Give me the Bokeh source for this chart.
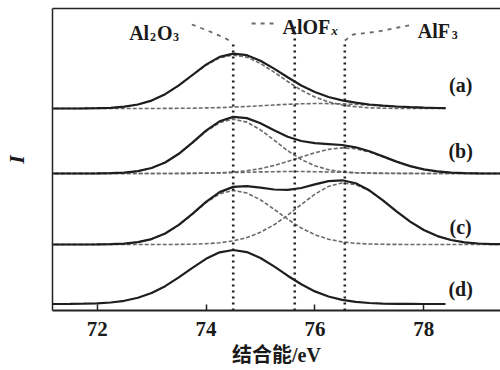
from bokeh.plotting import figure
from bokeh.models import Range1d, LinearAxis, FixedTicker
from bokeh.core.properties import value
from bokeh.embed import file_html
from bokeh.resources import INLINE

# ---------------- data ----------------
tick_values = [72, 74, 76, 78]
tick_labels = ["72", "74", "76", "78"]
x_label = "结合能/eV"
y_label = "I"
panel_names = ["(a)", "(b)", "(c)", "(d)"]
peak_names = ["Al2O3", "AlOFx", "AlF3"]
peak_positions = [74.5, 75.63, 76.55]          # eV

# binding energy grid (eV)
energy = [71.0, 71.25, 71.5, 71.75, 72.0, 72.25, 72.5, 72.75, 73.0, 73.25,
          73.5, 73.75, 74.0, 74.25, 74.5, 74.75, 75.0, 75.25, 75.5, 75.75,
          76.0, 76.25, 76.5, 76.75, 77.0, 77.25, 77.5, 77.75, 78.0, 78.25,
          78.5, 78.75, 79.0, 79.25, 79.5]
# spectra (a) and (d) stop earlier
energy_short = [71.0, 71.25, 71.5, 71.75, 72.0, 72.25, 72.5, 72.75, 73.0, 73.25,
                73.5, 73.75, 74.0, 74.25, 74.5, 74.75, 75.0, 75.25, 75.5, 75.75,
                76.0, 76.25, 76.5, 76.75, 77.0, 77.25, 77.5, 77.75, 78.0, 78.25,
                78.4]

# vertical offsets of the stacked spectra (a.u.)
offsets = [202, 137, 66, 6.5]

# (a)
a_envelope = [0, 0, 0, 0.1, 0.3, 0.7, 1.8, 4.0, 7.9, 14.3, 23.1, 33.5, 43.9, 51.6,
              54.9, 53.3, 47.8, 39.9, 31.2, 23.0, 16.5, 11.5, 8.1, 5.8, 4.0, 2.9,
              2.0, 1.3, 0.8, 0.5, 0.4]
a_al2o3 = [0, 0, 0, 0.1, 0.3, 0.7, 1.8, 4.0, 7.9, 14.2, 22.9, 33.2, 43.3, 50.7,
           53.5, 51.3, 45.1, 36.4, 27.0, 18.3, 11.5, 6.6, 3.5, 1.7, 0.7, 0.3,
           0.1, 0, 0, 0, 0]
a_minor = [0, 0, 0, 0, 0, 0, 0, 0, 0, 0.1, 0.2, 0.3, 0.6, 0.9, 1.4, 2.0, 2.7,
           3.5, 4.2, 4.7, 5.0, 4.9, 4.6, 4.1, 3.3, 2.6, 1.9, 1.3, 0.8, 0.5, 0.4]

# (b)
b_envelope = [0, 0, 0, 0, 0.1, 0.3, 0.9, 2.4, 5.5, 11.0, 19.7, 30.9, 42.8, 52.2,
              56.6, 55.4, 50.2, 43.2, 36.8, 32.5, 30.3, 29.4, 28.5, 26.2, 22.2,
              17.1, 11.9, 7.4, 4.1, 2.1, 0.9, 0.4, 0.1, 0, 0]
b_al2o3 = [0, 0, 0, 0, 0.1, 0.3, 0.9, 2.4, 5.5, 11.0, 19.6, 30.6, 42.1, 50.9,
           54.3, 51.4, 43.7, 33.4, 22.8, 14.0, 7.7, 3.8, 1.7, 0.7, 0.2, 0.1,
           0, 0, 0, 0, 0, 0, 0, 0, 0]
b_alof = [0, 0, 0, 0, 0, 0, 0, 0, 0, 0, 0.1, 0.2, 0.4, 0.6, 0.9, 1.2, 1.6, 1.8,
          2.0, 2.0, 1.8, 1.5, 1.2, 0.8, 0.5, 0.3, 0.2, 0.1, 0, 0, 0, 0, 0, 0, 0]
b_alf3 = [0, 0, 0, 0, 0, 0, 0, 0, 0, 0, 0, 0.1, 0.3, 0.7, 1.4, 2.8, 4.9, 8.0,
          12.0, 16.5, 20.8, 24.1, 25.6, 24.7, 21.5, 16.7, 11.7, 7.3, 4.1, 2.1,
          0.9, 0.4, 0.1, 0, 0]

# (c)
c_envelope = [0, 0, 0, 0, 0.1, 0.3, 0.9, 2.4, 5.4, 11.0, 19.6, 30.7, 42.6, 52.4,
              57.6, 58.4, 56.9, 55.0, 54.6, 56.5, 60.1, 63.4, 64.2, 61.2, 54.2,
              44.2, 33.2, 22.9, 14.5, 8.4, 4.5, 2.2, 1.0, 0.4, 0.2]
c_al2o3 = [0, 0, 0, 0, 0.1, 0.3, 0.9, 2.4, 5.4, 11.0, 19.5, 30.4, 41.8, 50.7,
           54.0, 51.5, 44.7, 35.3, 25.3, 16.5, 9.8, 5.3, 2.6, 1.2, 0.5, 0.2,
           0.1, 0, 0, 0, 0, 0, 0, 0, 0]
c_alf3 = [0, 0, 0, 0, 0, 0, 0, 0, 0, 0, 0.1, 0.3, 0.8, 1.7, 3.6, 6.9, 12.2, 19.7,
          29.3, 40.0, 50.3, 58.1, 61.6, 60.0, 53.7, 44.0, 33.1, 22.9, 14.5, 8.4,
          4.5, 2.2, 1.0, 0.4, 0.2]

# (d)
d_envelope = [0, 0, 0.1, 0.3, 0.6, 1.5, 3.2, 6.2, 11.0, 17.8, 26.6, 36.2, 45.2,
              51.7, 54.0, 51.9, 46.0, 37.6, 28.3, 19.7, 12.6, 7.5, 4.1, 2.1, 1.0,
              0.4, 0.2, 0.1, 0, 0, 0]

# ---------------- layout helpers ----------------
X0, X1 = 71.18, 79.41
Y0, Y1 = 0, 302
FRAME_L, FRAME_B, FRAME_W = 50, 310, 450


def dx(px):
    return X0 + (px - FRAME_L) * (X1 - X0) / FRAME_W


def dy(py):
    return Y0 + (FRAME_B - py)


SERIF = "Liberation Serif"
TXT = "#1a1a1a"
ENV_COLOR = "#1e1e1e"
COMP_COLOR = "#6a6a6a"

p = figure(width=500, height=370, x_range=Range1d(X0, X1), y_range=Range1d(Y0, Y1),
           output_backend="svg", toolbar_location=None,
           x_axis_location=None, y_axis_location=None,
           min_border_left=FRAME_L, min_border_right=0, min_border_top=8,
           min_border_bottom=60)
p.outline_line_color = None
p.xgrid.grid_line_color = None
p.ygrid.grid_line_color = None
p.background_fill_color = "white"
p.border_fill_color = "white"

# axes
xaxis = LinearAxis(ticker=FixedTicker(ticks=tick_values),
                   major_label_overrides=dict(zip(tick_values, tick_labels)),
                   axis_label=x_label)
xaxis.axis_line_width = 2
xaxis.axis_line_color = "#222222"
xaxis.major_tick_in = 6
xaxis.major_tick_out = 0
xaxis.major_tick_line_width = 1.5
xaxis.major_tick_line_color = "#222222"
xaxis.minor_tick_line_color = None
xaxis.major_label_text_font = SERIF
xaxis.major_label_text_font_style = "bold"
xaxis.major_label_text_font_size = "21px"
xaxis.major_label_text_color = TXT
xaxis.major_label_standoff = 11
xaxis.axis_label_text_font = "Liberation Serif, Noto Sans CJK SC"
xaxis.axis_label_text_font_style = "bold"
xaxis.axis_label_text_font_size = "20px"
xaxis.axis_label_text_color = TXT
xaxis.axis_label_standoff = 5
p.add_layout(xaxis, "below")

yaxis = LinearAxis(ticker=FixedTicker(ticks=[]), axis_label=y_label)
yaxis.axis_line_width = 1.5
yaxis.axis_line_color = "#222222"
yaxis.major_tick_line_color = None
yaxis.minor_tick_line_color = None
yaxis.major_label_text_font_size = "0px"
yaxis.axis_label_text_font = SERIF
yaxis.axis_label_text_font_style = "bold italic"
yaxis.axis_label_text_font_size = "22px"
yaxis.axis_label_text_color = TXT
yaxis.axis_label_standoff = 24
p.add_layout(yaxis, "left")

top = LinearAxis(ticker=FixedTicker(ticks=[]))
top.axis_line_width = 1.5
top.axis_line_color = "#222222"
top.major_tick_line_color = None
top.minor_tick_line_color = None
top.major_label_text_font_size = "0px"
p.add_layout(top, "above")

# component curves (dashed) and envelopes (solid)
def shifted(vals, off):
    return [v + off for v in vals]

components = [
    (energy_short, a_al2o3, offsets[0]), (energy_short, a_minor, offsets[0]),
    (energy, b_al2o3, offsets[1]), (energy, b_alof, offsets[1]), (energy, b_alf3, offsets[1]),
    (energy, c_al2o3, offsets[2]), (energy, c_alf3, offsets[2]),
]
for xs, ys, off in components:
    p.line(xs, shifted(ys, off), line_color=COMP_COLOR, line_width=1.6, line_dash="4 2")

envelopes = [
    (energy_short, a_envelope, offsets[0]),
    (energy, b_envelope, offsets[1]),
    (energy, c_envelope, offsets[2]),
    (energy_short, d_envelope, offsets[3]),
]
for xs, ys, off in envelopes:
    p.line(xs, shifted(ys, off), line_color=ENV_COLOR, line_width=2.2)

# vertical dotted reference lines at the peak positions
line_tops = [dy(42), dy(25), dy(40)]
p.segment(x0=peak_positions, y0=[Y0] * 3, x1=peak_positions, y1=line_tops,
          line_color="#222222", line_width=2.6, line_dash=value([2, 4]))

# leader lines from labels to the reference lines
p.line([dx(190), dx(208), dx(222), peak_positions[0]],
       [dy(24), dy(31), dy(37), line_tops[0]],
       line_color=COMP_COLOR, line_width=1.8, line_dash="4 5")
p.line([peak_positions[2], dx(352), dx(377), dx(397), dx(413)],
       [line_tops[2], dy(34), dy(31), dy(27), dy(24)],
       line_color=COMP_COLOR, line_width=1.8, line_dash="4 5")
p.line([dx(250), dx(272)], [dy(23), dy(23)],
       line_color=COMP_COLOR, line_width=1.8, line_dash="4 5")

# peak labels with subscripts
main_txt = ["Al", "O", "AlOF", "AlF"]
main_x = [dx(127), dx(155), dx(281), dx(417)]
main_y = [dy(32), dy(32), dy(26.5), dy(30)]
p.text(x=main_x, y=main_y, text=main_txt, text_font=value(SERIF),
       text_font_style="bold", text_font_size="20px", text_color=TXT,
       text_align="left", text_baseline="alphabetic")
sub_txt = ["2", "3", "3"]
sub_x = [dx(148), dx(171), dx(451)]
sub_y = [dy(36), dy(36), dy(34)]
p.text(x=sub_x, y=sub_y, text=sub_txt, text_font=value(SERIF),
       text_font_style="bold", text_font_size="12px", text_color=TXT,
       text_align="left", text_baseline="alphabetic")
p.text(x=[dx(330)], y=[dy(30)], text=["x"], text_font=value(SERIF),
       text_font_style="bold italic", text_font_size="13px", text_color=TXT,
       text_align="left", text_baseline="alphabetic")

# panel labels
p.text(x=[dx(460)] * 4, y=[dy(84), dy(150), dy(226), dy(288)], text=panel_names,
       text_font=value(SERIF), text_font_style="bold", text_font_size="20px",
       text_color=TXT, text_align="center", text_baseline="middle")

open("out.html", "w").write(file_html(p, INLINE))
